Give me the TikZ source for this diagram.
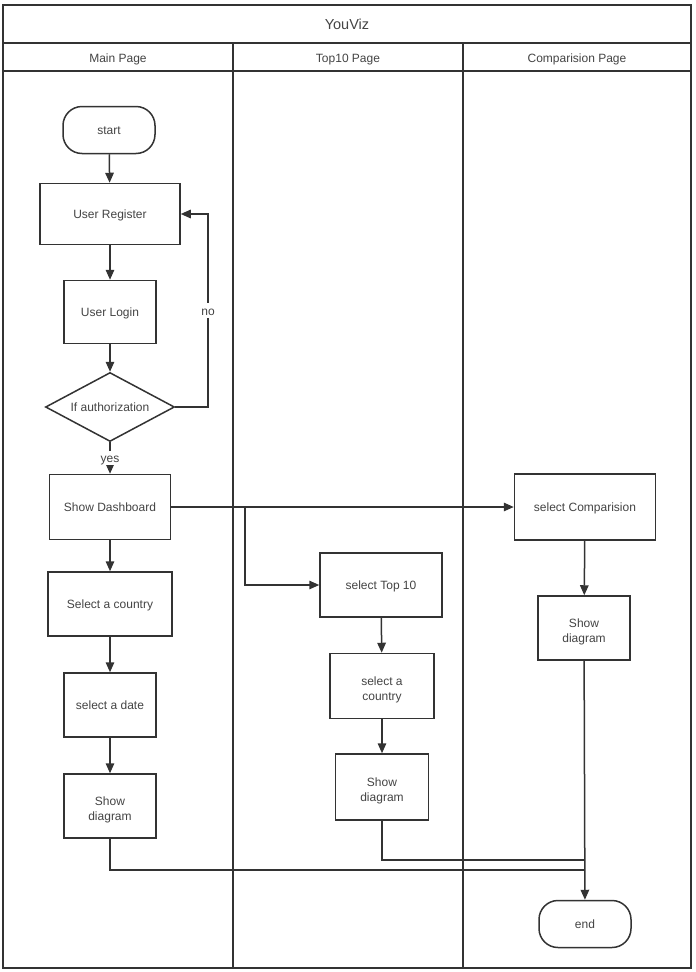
\documentclass[tikz,border=0pt]{standalone}
\usepackage{fontspec}
\setmainfont{Liberation Sans}
\usetikzlibrary{shapes.geometric,arrows.meta}
\definecolor{ln}{HTML}{333333}
\definecolor{tx}{HTML}{444444}
\newcommand{\tl}{\rule{0pt}{17pt}}
\begin{document}
\begin{tikzpicture}[x=1pt,y=-1pt,
  every node/.style={font=\fontsize{12}{15}\selectfont, text=tx},
  sl/.style={text height=10.5pt, text depth=1pt},
  box/.style={draw=ln, line width=1.5pt, rectangle, align=center, inner sep=0pt},
  term/.style={draw=ln, line width=1.5pt, rectangle, rounded corners=19pt, inner sep=0pt, sl},
  dec/.style={draw=ln, line width=1.5pt, diamond, aspect=1.87, inner sep=0pt, minimum width=129pt, minimum height=69pt, sl},
  lane/.style={draw=ln, line width=1.5pt},
  flow/.style={draw=ln, line width=1.5pt, -{Triangle[length=10pt,width=8.5pt]}},
  seg/.style={draw=ln, line width=1.5pt}]
\useasboundingbox (0,0) rectangle (696,972);
\fill[white] (0,0) rectangle (696,972);
% pool and lanes
\draw[lane] (3,5) rectangle (691,968);
\draw[lane] (3,43) -- (691,43);
\draw[lane] (3,71) -- (691,71);
\draw[lane] (233,43) -- (233,968);
\draw[lane] (463,43) -- (463,968);
\node[sl, font=\fontsize{14.5}{17}\selectfont] (title) at (347,25) {YouViz};
\node[sl] (h1) at (118,58) {Main Page};
\node[sl] (h2) at (348,58) {Top10 Page};
\node[sl] (h3) at (577,58) {Comparision Page};
% main lane
\node[term, minimum width=92pt, minimum height=47pt] (start) at (109,130) {start};
\node[box, sl, minimum width=140pt, minimum height=61pt] (reg) at (110,214) {User Register};
\node[box, sl, minimum width=92pt, minimum height=63pt] (login) at (110,312) {User Login};
\node[dec] (auth) at (110,407) {If authorization};
\node[box, sl, minimum width=121pt, minimum height=65pt] (dash) at (110,507) {Show Dashboard};
\node[box, sl, minimum width=124pt, minimum height=64pt] (country) at (110,604) {Select a country};
\node[box, sl, minimum width=92pt, minimum height=64pt] (date) at (110,705) {select a date};
\node[box, minimum width=92pt, minimum height=64pt] (mshow) at (110,806) {\tl Show\\diagram};
% top10 lane
\node[box, sl, minimum width=122pt, minimum height=64pt] (top) at (381,585) {select Top 10};
\node[box, minimum width=104pt, minimum height=65pt] (tcountry) at (382,686) {\tl select a\\country};
\node[box, minimum width=93pt, minimum height=66pt] (tshow) at (382,787) {\tl Show\\diagram};
% comparison lane
\node[box, sl, minimum width=141pt, minimum height=66pt] (comp) at (585,507) {select Comparision};
\node[box, minimum width=92pt, minimum height=64pt] (cshow) at (584,628) {\tl Show\\diagram};
\node[term, minimum width=92pt, minimum height=47pt] (end) at (585,924) {end};
% coordinates
\coordinate (nocorner) at (208,407);
\coordinate (br) at (245,507);
\coordinate (j1) at (585,870);
\coordinate (j2) at (585,860);
% connectors
\draw[flow] (start) -- (reg);
\draw[flow] (reg) -- (login);
\draw[flow] (login) -- (auth);
\draw[flow] (auth) -- node[sl, fill=white, inner sep=1pt, pos=0.5] (yes) {yes} (dash);
\draw[flow] (auth.east) -- (nocorner) |- node[sl, pos=0.25, fill=white, inner sep=1.5pt] (no) {no} (reg.east);
\draw[flow] (dash.east) -- (comp.west);
\draw[flow] (br) |- (top.west);
\draw[flow] (dash) -- (country);
\draw[flow] (country) -- (date);
\draw[flow] (date) -- (mshow);
\draw[flow] (top) -- (tcountry);
\draw[flow] (tcountry) -- (tshow);
\draw[flow] (comp) -- (cshow);
\draw[flow] (cshow) -- (end);
\draw[seg] (mshow.south) |- (j1);
\draw[seg] (tshow.south) |- (j2);
\end{tikzpicture}
\end{document}
